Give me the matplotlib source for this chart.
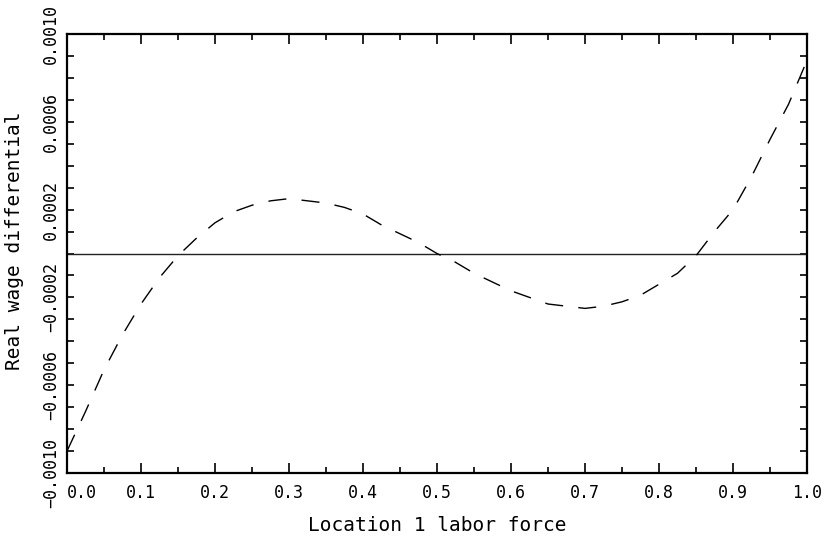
import matplotlib
matplotlib.use("Agg")
import matplotlib.pyplot as plt
from matplotlib.ticker import FixedLocator, MultipleLocator

labor_force = [0.000, 0.025, 0.050, 0.075, 0.100, 0.125, 0.150, 0.175, 0.200,
               0.225, 0.250, 0.275, 0.300, 0.325, 0.350, 0.375, 0.400, 0.425,
               0.450, 0.475, 0.500, 0.525, 0.550, 0.575, 0.600, 0.625, 0.650,
               0.675, 0.700, 0.725, 0.750, 0.775, 0.800, 0.825, 0.850, 0.875,
               0.900, 0.925, 0.950, 0.975, 1.000]
wage_diff = [-0.00090, -0.00072, -0.00053, -0.00037, -0.00023, -0.00011,
             -0.00001, 0.00007, 0.00014, 0.00019, 0.00022, 0.00024, 0.00025,
             0.00024, 0.00023, 0.00021, 0.00018, 0.00013, 0.00009, 0.00005,
             0.00000, -0.00004, -0.00009, -0.00013, -0.00017, -0.00020,
             -0.00023, -0.00024, -0.00025, -0.00024, -0.00022, -0.00019,
             -0.00014, -0.00009, -0.00001, 0.00010, 0.00020, 0.00035,
             0.00052, 0.00068, 0.00088]

x_ticks = [0.0, 0.1, 0.2, 0.3, 0.4, 0.5, 0.6, 0.7, 0.8, 0.9, 1.0]
x_tick_labels = ["0.0", "0.1", "0.2", "0.3", "0.4", "0.5", "0.6", "0.7", "0.8", "0.9", "1.0"]
y_ticks = [-0.0010, -0.0006, -0.0002, 0.0002, 0.0006, 0.0010]
y_tick_labels = ["-0.0010", "-0.0006", "-0.0002", "0.0002", "0.0006", "0.0010"]

FONT = "DejaVu Sans Mono"

fig = plt.figure(figsize=(8.24, 5.39), dpi=100)
ax = fig.add_axes([0.0813, 0.1224, 0.8981, 0.8145])

ax.axhline(0.0, color="#222222", linewidth=1.0)
ax.plot(labor_force, wage_diff, color="black", linewidth=1.0,
        linestyle=(0, (13, 11)))

ax.set_xlim(0.0, 1.0)
ax.set_ylim(-0.0010, 0.0010)

ax.xaxis.set_major_locator(FixedLocator(x_ticks))
ax.set_xticklabels(x_tick_labels, fontsize=12, family=FONT)
ax.xaxis.set_minor_locator(MultipleLocator(0.05))
ax.yaxis.set_major_locator(FixedLocator(y_ticks))
ax.set_yticklabels([s.replace("-", "\u2212") for s in y_tick_labels],
                   fontsize=12, family=FONT, rotation=90, va="center")
ax.yaxis.set_minor_locator(MultipleLocator(0.0001))

ax.tick_params(which="both", direction="in", top=True, right=True,
               width=1.2, color="black")
ax.tick_params(axis="x", which="major", length=7, pad=8)
ax.tick_params(axis="x", which="minor", length=4)
ax.tick_params(axis="y", which="major", length=5, pad=5)
ax.tick_params(axis="y", which="minor", length=5)

first = ax.get_xticklabels()[0]
first.set_horizontalalignment("left")

for s in ax.spines.values():
    s.set_linewidth(1.6)

ax.set_xlabel("Location 1 labor force", fontsize=14, family=FONT, labelpad=10)
ax.set_ylabel("Real wage differential", fontsize=14, family=FONT)
ax.yaxis.set_label_coords(-0.058, 0.528)

fig.savefig("out.png", dpi=100)
